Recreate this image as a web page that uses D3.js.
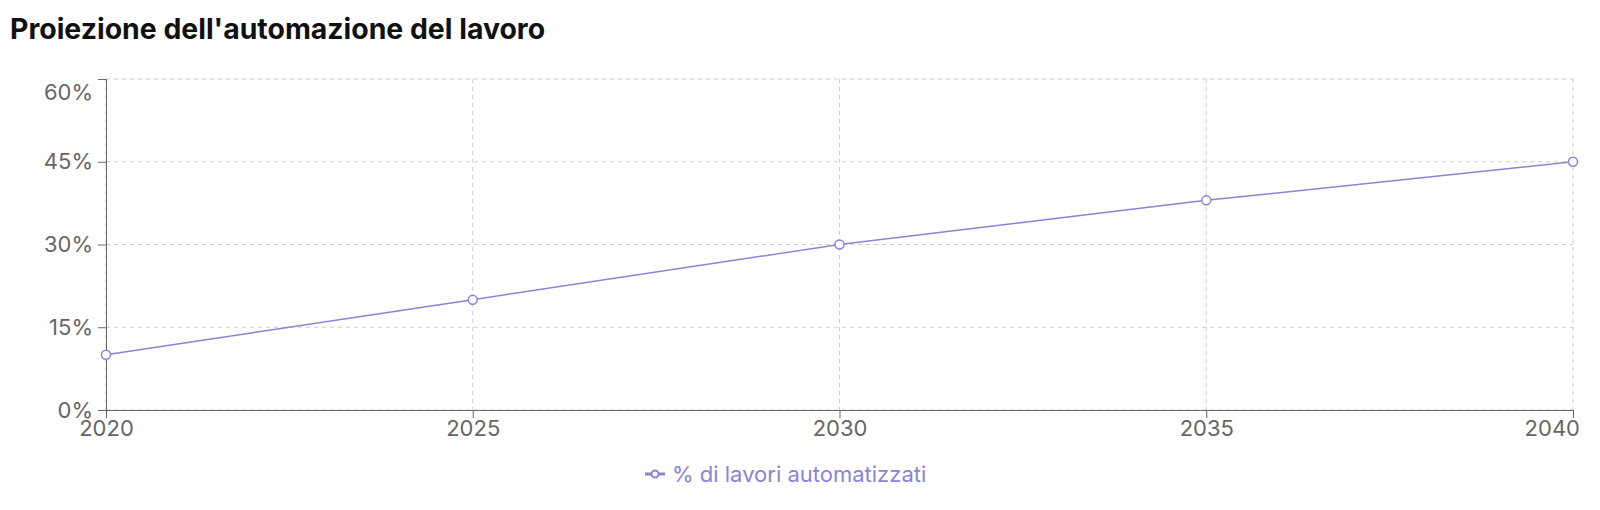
<!DOCTYPE html>
<html><head><meta charset="utf-8">
<script src="https://cdn.jsdelivr.net/npm/d3@7"></script>
<style>
body{margin:0;background:#fff;font-family:Inter,"Noto Sans",sans-serif;}
</style></head>
<body><svg id="c" width="1600" height="510"></svg>
<script>
const title = "Proiezione dell'automazione del lavoro";
const years = [2020, 2025, 2030, 2035, 2040];
const automated = [10, 20, 30, 38, 45];
const yTicks = [0, 15, 30, 45, 60];
const seriesName = "% di lavori automatizzati";
const color = "#8884d8";

const svg = d3.select("#c");
const m = {l:106, r:27, t:79, b:100};
const W = 1600, H = 510;
const x = d3.scaleLinear().domain([2020, 2040]).range([m.l, W - m.r]);
const y = d3.scaleLinear().domain([0, 60]).range([H - m.b, m.t]);

svg.append("text").attr("x", 10).attr("y", 39).text(title)
  .attr("font-size", 28.4).attr("font-weight", 700).attr("fill", "#111");

// grid
const g = svg.append("g");
g.selectAll(".h").data(yTicks).join("line")
  .attr("x1", m.l).attr("x2", W - m.r).attr("y1", d => y(d)).attr("y2", d => y(d))
  .attr("stroke", "#ccc").attr("stroke-dasharray", "4 4");
g.selectAll(".v").data(years).join("line")
  .attr("y1", m.t).attr("y2", H - m.b).attr("x1", d => x(d)).attr("x2", d => x(d))
  .attr("stroke", "#ccc").attr("stroke-dasharray", "4 4");

// axes
const xa = svg.append("g").attr("transform", `translate(0,${H - m.b})`)
  .call(d3.axisBottom(x).tickValues(years).tickFormat(d3.format("d")).tickSize(8).tickPadding(2));
const ya = svg.append("g").attr("transform", `translate(${m.l},0)`)
  .call(d3.axisLeft(y).tickValues(yTicks).tickFormat(d => d + "%").tickSize(8).tickPadding(5));
[xa, ya].forEach(a => {
  a.select(".domain").attr("stroke", "#666");
  a.selectAll(".tick line").attr("stroke", "#666");
  a.selectAll("text").attr("fill", "#666").attr("font-size", 22).attr("font-family", "Inter");
});
// keep edge labels inside bounds
xa.selectAll(".tick text").each(function(){
  const b = this.getBBox(); const t = this.parentNode.getAttribute("transform");
  const tx = +t.match(/translate\(([^,]+)/)[1];
  const right = tx + b.x + b.width;
  if (right > W - 20) d3.select(this).attr("dx", (W - 20 - right));
});
ya.selectAll(".tick text").each(function(){
  const b = this.getBBox(); const t = this.parentNode.getAttribute("transform");
  const ty = +t.match(/,([^)]+)\)/)[1];
  const top = ty + b.y;
  if (top < m.t) d3.select(this).attr("y", m.t - top);
});

// line
svg.append("path").datum(automated)
  .attr("d", d3.line().x((d,i) => x(years[i])).y(d => y(d)))
  .attr("fill", "none").attr("stroke", color).attr("stroke-width", 1.5);
svg.selectAll(".dot").data(automated).join("circle")
  .attr("cx", (d,i) => x(years[i])).attr("cy", d => y(d)).attr("r", 4.5)
  .attr("fill", "#fff").attr("stroke", color).attr("stroke-width", 1.5);

// legend
const lg = svg.append("g").attr("transform", "translate(645,474)");
lg.append("line").attr("x1", 0).attr("x2", 20).attr("stroke", color).attr("stroke-width", 3);
lg.append("circle").attr("cx", 10).attr("r", 3.5).attr("fill", "#fff").attr("stroke", color).attr("stroke-width", 2);
lg.append("text").attr("x", 27).attr("dy", "0.35em").text(seriesName)
  .attr("fill", color).attr("font-size", 22);
</script></body></html>
